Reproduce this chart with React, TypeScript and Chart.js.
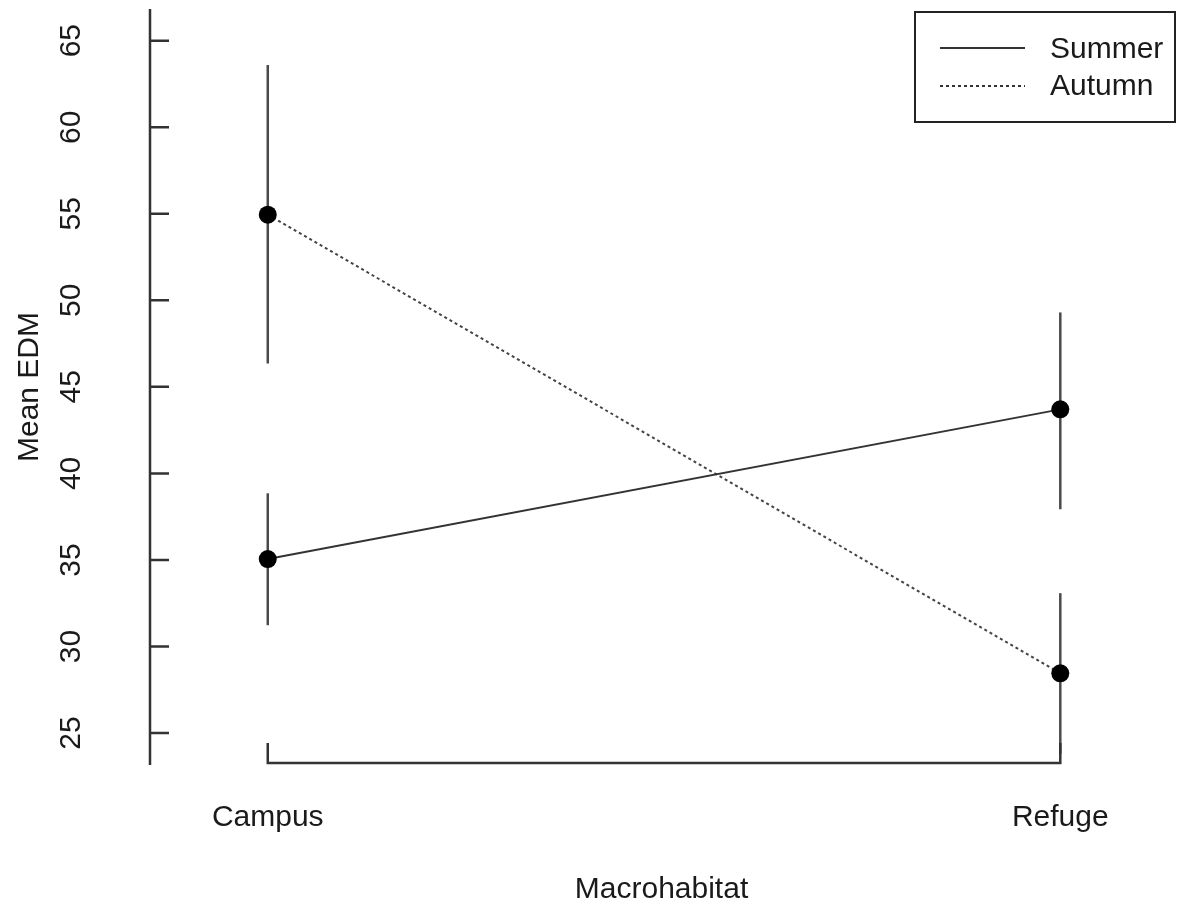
import React, { useEffect, useRef } from 'react';
import { Chart, registerables } from 'chart.js';

Chart.register(...registerables);

const categories = ['Campus', 'Refuge'];
const seriesNames = ['Summer', 'Autumn'];
const summerMean = [35.05, 43.7];
const summerLow = [31.23, 37.93];
const summerHigh = [38.85, 49.3];
const autumnMean = [54.95, 28.45];
const autumnLow = [46.35, 23.8];
const autumnHigh = [63.6, 33.08];
const yTicks = [25, 30, 35, 40, 45, 50, 55, 60, 65];
const xTitle = 'Macrohabitat';
const yTitle = 'Mean EDM';

const FONT = '"Liberation Sans", Arial, sans-serif';

export default function App() {
  const ref = useRef<HTMLCanvasElement>(null);

  useEffect(() => {
    if (!ref.current) return;
    const lineColor = '#333333';
    const errColor = '#4a4a4a';

    const errSets: any[] = [];
    categories.forEach((_, i) => {
      errSets.push({
        label: 'err-s-' + i,
        data: [
          { x: i + 1, y: summerLow[i] },
          { x: i + 1, y: summerHigh[i] },
        ],
        borderColor: errColor,
        borderWidth: 2.5,
        pointRadius: 0,
        showLine: true,
      });
      errSets.push({
        label: 'err-a-' + i,
        data: [
          { x: i + 1, y: autumnLow[i] },
          { x: i + 1, y: autumnHigh[i] },
        ],
        borderColor: errColor,
        borderWidth: 2.5,
        pointRadius: 0,
        showLine: true,
      });
    });

    const axesPlugin = {
      id: 'rAxes',
      afterDraw(chart: any) {
        const { ctx, chartArea: ca, scales } = chart;
        const xs = scales.x;
        const ys = scales.y;
        ctx.save();
        ctx.strokeStyle = lineColor;
        ctx.lineWidth = 2.5;
        ctx.lineCap = 'butt';
        // y axis
        ctx.beginPath();
        ctx.moveTo(ca.left, ca.top);
        ctx.lineTo(ca.left, ca.bottom);
        yTicks.forEach((v) => {
          const py = ys.getPixelForValue(v);
          ctx.moveTo(ca.left, py);
          ctx.lineTo(ca.left + 19, py);
        });
        ctx.stroke();
        // x axis
        const by = ca.bottom - 2;
        const x1 = xs.getPixelForValue(1);
        const x2 = xs.getPixelForValue(categories.length);
        ctx.beginPath();
        ctx.moveTo(x1, by - 20);
        ctx.lineTo(x1, by);
        ctx.lineTo(x2, by);
        ctx.lineTo(x2, by - 20);
        ctx.stroke();

        // text
        ctx.fillStyle = '#1a1a1a';
        ctx.font = '30px ' + FONT;
        ctx.textAlign = 'center';
        ctx.textBaseline = 'middle';
        categories.forEach((c, i) => {
          ctx.fillText(c, xs.getPixelForValue(i + 1), 818);
        });
        ctx.fillText(xTitle, (ca.left + ca.right) / 2, 890);
        yTicks.forEach((v) => {
          const py = ys.getPixelForValue(v);
          ctx.save();
          ctx.translate(72, py);
          ctx.rotate(-Math.PI / 2);
          ctx.fillText(String(v), 0, 0);
          ctx.restore();
        });
        ctx.save();
        ctx.translate(30, (ca.top + ca.bottom) / 2);
        ctx.rotate(-Math.PI / 2);
        ctx.fillText(yTitle, 0, 0);
        ctx.restore();

        // legend
        ctx.lineWidth = 2;
        ctx.strokeStyle = '#222';
        ctx.strokeRect(915, 12, 260, 110);
        ctx.strokeStyle = lineColor;
        ctx.beginPath();
        ctx.moveTo(940, 48);
        ctx.lineTo(1025, 48);
        ctx.stroke();
        ctx.setLineDash([3, 3]);
        ctx.beginPath();
        ctx.moveTo(940, 86);
        ctx.lineTo(1025, 86);
        ctx.stroke();
        ctx.setLineDash([]);
        ctx.textAlign = 'left';
        ctx.fillText(seriesNames[0], 1050, 50);
        ctx.fillText(seriesNames[1], 1050, 87);
        ctx.restore();
      },
    };

    const chart = new Chart(ref.current, {
      type: 'scatter',
      data: {
        datasets: [
          {
            label: seriesNames[0],
            data: categories.map((_, i) => ({ x: i + 1, y: summerMean[i] })),
            borderColor: lineColor,
            backgroundColor: '#000',
            borderWidth: 2,
            pointRadius: 9,
            pointBorderWidth: 0,
            pointBackgroundColor: '#000',
            showLine: true,
          },
          {
            label: seriesNames[1],
            data: categories.map((_, i) => ({ x: i + 1, y: autumnMean[i] })),
            borderColor: '#444',
            backgroundColor: '#000',
            borderWidth: 2,
            borderDash: [3, 3],
            pointRadius: 9,
            pointBorderWidth: 0,
            pointBackgroundColor: '#000',
            showLine: true,
          },
          ...errSets,
        ],
      },
      options: {
        responsive: false,
        animation: false,
        devicePixelRatio: 1,
        layout: { padding: { left: 150, right: 7, top: 8, bottom: 145 } },
        plugins: { legend: { display: false }, tooltip: { enabled: false } },
        scales: {
          x: { type: 'linear', display: false, min: 0.8514, max: 2.1422 },
          y: { type: 'linear', display: false, min: 23.154, max: 66.83 },
        },
      },
      plugins: [axesPlugin],
    });
    return () => chart.destroy();
  }, []);

  return (
    <div style={{ position: 'absolute', left: 0, top: 0, width: 1182, height: 910, background: '#fff' }}>
      <canvas ref={ref} width={1182} height={910} style={{ display: 'block' }} />
    </div>
  );
}
